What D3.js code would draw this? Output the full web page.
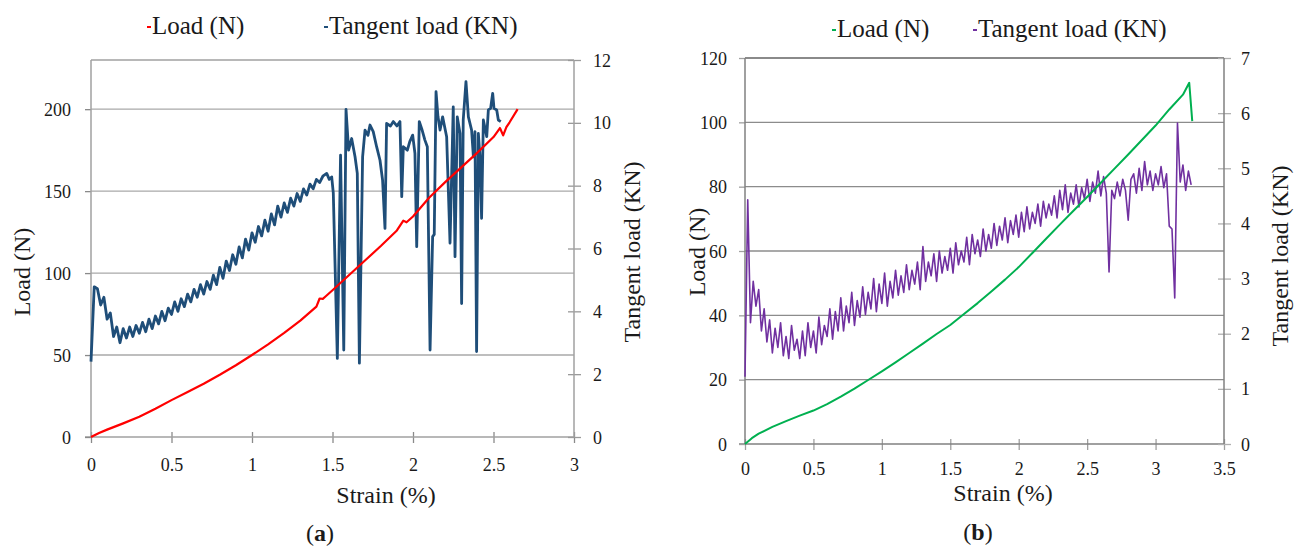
<!DOCTYPE html>
<html><head><meta charset="utf-8">
<script src="https://cdn.jsdelivr.net/npm/d3@7"></script>
<style>
body{margin:0;background:#fff}
svg text{font-family:"Times New Roman",Times,Tinos,"Liberation Serif","DejaVu Serif","Noto Serif",FreeSerif,serif !important;fill:#1a1a1a}
</style></head>
<body><svg id="c" width="1300" height="550"></svg>
<script>
// ---------- tick labels ----------
const strainTicksA = [0, 0.5, 1, 1.5, 2, 2.5, 3];
const loadTicksA = [0, 50, 100, 150, 200];
const tanTicksA = [0, 2, 4, 6, 8, 10, 12];
const strainTicksB = [0, 0.5, 1, 1.5, 2, 2.5, 3, 3.5];
const loadTicksB = [0, 20, 40, 60, 80, 100, 120];
const tanTicksB = [0, 1, 2, 3, 4, 5, 6, 7];

// ---------- panel (a): Load (N) ----------
const loadA_strain = [0,0.05,0.1,0.2,0.3,0.4,0.5,0.6,0.7,0.8,0.9,1.0,1.1,1.2,1.3,1.4,1.42,1.44,1.46,1.5,1.6,1.7,1.8,1.9,1.94,1.96,2.0,2.1,2.2,2.3,2.4,2.5,2.54,2.56,2.58,2.6,2.65];
const loadA_N      = [0,2.5,4.5,8.3,12.3,17.2,22.5,27.5,32.5,38,43.8,50,56.5,63.5,71,79.5,84.5,84.3,86,89.5,98.5,107.5,116.5,126,132,131,134.5,146,155.5,164.5,173.5,183,188.5,184,189,192,200];

// ---------- panel (a): Tangent load (KN) ----------
// regular part, sampled every 0.02 % strain from 0 to 1.42
const tanA_gridStep = 0.02;
const tanA_gridKN = [
 2.4,4.78,4.72,4.2,4.45,3.75,3.95,3.2,3.5,3.0,
 3.45,3.15,3.5,3.2,3.55,3.3,3.65,3.35,3.75,3.45,
 3.85,3.6,4.0,3.7,4.1,3.9,4.3,4.0,4.4,4.15,
 4.55,4.3,4.7,4.45,4.85,4.55,4.95,4.7,5.15,4.85,
 5.4,5.05,5.6,5.3,5.8,5.5,6.05,5.7,6.3,5.95,
 6.5,6.2,6.7,6.4,6.9,6.55,7.1,6.75,7.35,7.0,
 7.45,7.15,7.6,7.35,7.75,7.5,7.9,7.7,8.05,7.9,
 8.2,8.1];
// irregular spiky part
const tanA_tailStrain = [1.44,1.464,1.48,1.495,1.505,1.53,1.55,1.57,1.584,1.60,1.619,1.64,1.654,1.667,1.687,1.702,1.72,1.733,1.753,1.774,1.795,1.811,1.826,1.836,1.86,1.878,1.90,1.919,1.93,1.94,1.965,1.98,1.998,2.012,2.023,2.039,2.055,2.074,2.089,2.106,2.122,2.132,2.143,2.155,2.168,2.184,2.209,2.23,2.25,2.261,2.275,2.292,2.302,2.312,2.329,2.344,2.364,2.375,2.385,2.395,2.406,2.416,2.426,2.437,2.458,2.468,2.482,2.495,2.503,2.52,2.53,2.545];
const tanA_tailKN     = [8.3,8.39,8.2,8.28,7.76,2.5,8.97,2.77,10.43,9.13,9.5,8.92,8.39,2.35,8.92,9.77,9.6,9.93,9.72,9.24,8.81,8.18,6.64,9.98,9.9,10.04,9.9,10.04,7.65,9.24,9.13,9.4,9.61,9.03,6.06,10.04,9.8,9.45,9.24,2.77,6.38,6.45,10.99,10.2,9.77,10.19,9.56,6.17,10.51,5.74,10.19,9.66,4.25,10.09,11.31,10.19,9.77,8.92,9.72,2.72,9.66,8.92,6.96,10.09,9.56,10.41,10.46,10.94,10.46,10.41,10.09,10.04];

// ---------- panel (b): Load (N) ----------
const loadB_strain = [0,0.05,0.1,0.2,0.3,0.4,0.5,0.6,0.7,0.8,0.9,1.0,1.1,1.2,1.3,1.4,1.5,1.6,1.7,1.8,1.9,2.0,2.1,2.2,2.3,2.4,2.5,2.6,2.7,2.8,2.9,3.0,3.1,3.2,3.246,3.268];
const loadB_N      = [0,1.8,3.2,5.3,7.1,8.8,10.4,12.4,14.7,17.2,19.9,22.6,25.4,28.3,31.2,34.2,37.0,40.4,43.8,47.4,51.1,55,59.4,63.8,68.2,72.5,76.8,81.2,85.6,90,94.5,99,104,108.6,112.3,100.4];

// ---------- panel (b): Tangent load (KN), sampled every 0.02 % strain ----------
const tanB_step = 0.02;
const tanB_KN = [
 1.22,4.43,2.2,2.95,2.5,2.8,2.05,2.45,1.85,2.25,
 1.65,2.1,1.75,2.2,1.6,1.95,1.55,2.15,1.7,1.9,
 1.55,2.05,1.6,2.2,1.75,2.05,1.65,2.3,1.8,2.15,
 1.95,2.45,1.9,2.4,2.05,2.65,2.05,2.5,2.2,2.75,
 2.15,2.6,2.3,2.85,2.35,2.75,2.45,3.0,2.4,2.9,
 2.55,3.1,2.5,2.95,2.65,3.15,2.7,3.05,2.75,3.25,
 2.8,3.15,2.9,3.3,2.8,3.58,2.95,3.3,3.05,3.45,
 2.95,3.5,3.1,3.4,3.15,3.55,3.1,3.65,3.25,3.5,
 3.3,3.75,3.25,3.8,3.45,3.7,3.4,3.9,3.5,3.8,
 3.55,4.0,3.6,3.95,3.7,4.1,3.65,4.05,3.8,4.15,
 3.75,4.2,3.85,4.3,3.9,4.2,4.0,4.35,3.95,4.4,
 4.1,4.35,4.15,4.5,4.1,4.6,4.25,4.7,4.2,4.55,
 4.35,4.7,4.3,4.65,4.45,4.8,4.4,4.75,4.55,4.95,
 4.5,4.85,4.55,3.12,4.6,4.45,4.75,4.5,4.8,4.6,
 4.06,4.8,4.9,4.55,5.0,4.6,5.12,4.7,4.95,4.6,
 4.9,4.7,5.03,4.65,4.9,3.95,3.9,2.65,5.82,4.75,
 5.06,4.6,4.95,4.7];

// ---------- drawing ----------
const svg = d3.select("#c");
const zipPts = (xs, ys) => xs.map((v, i) => [v, ys[i]]);
const FONT = '"Times New Roman",Times,Tinos,"Liberation Serif","DejaVu Serif","Noto Serif",FreeSerif,serif';

function panel(o) {
  const g = svg.append("g").attr("font-family", FONT);
  const x = d3.scaleLinear().domain(o.xDom).range([o.left, o.right]);
  const yL = d3.scaleLinear().domain(o.yLDom).range([o.bottom, o.top]);
  const yR = d3.scaleLinear().domain(o.yRDom).range([o.bottom, o.top]);
  const fmt = d3.format("~g");

  g.selectAll(".grid").data(o.yLTicks.filter(d => d > 0)).join("line")
    .attr("x1", o.left).attr("x2", o.right)
    .attr("y1", d => yL(d)).attr("y2", d => yL(d))
    .attr("stroke", o.gridColor).attr("stroke-width", 1.4);
  g.append("line").attr("x1", o.left).attr("x2", o.right).attr("y1", o.top).attr("y2", o.top)
    .attr("stroke", o.borderColor).attr("stroke-width", 1.4);

  // x axis
  const ax = g.append("g").attr("transform", `translate(0,${o.bottom})`)
    .call(d3.axisBottom(x).tickValues(o.xTicks).tickFormat(fmt).tickSize(6).tickPadding(0));
  ax.attr("font-family", FONT);
  ax.select(".domain").remove();
  ax.selectAll(".tick line").attr("y1", -5).attr("y2", 6).attr("stroke", o.tickColor).attr("stroke-width", 1.3);
  ax.selectAll(".tick text").attr("y", o.xLabelDy).attr("dy", null).style("font-size", "18px");
  g.append("line").attr("x1", o.left - 6).attr("x2", o.right).attr("y1", o.bottom).attr("y2", o.bottom)
    .attr("stroke", o.borderColor).attr("stroke-width", 1.5);

  // left axis
  const al = g.append("g").attr("transform", `translate(${o.left},0)`)
    .call(d3.axisLeft(yL).tickValues(o.yLTicks).tickFormat(fmt).tickSize(6).tickPadding(0));
  al.attr("font-family", FONT);
  al.select(".domain").remove();
  al.selectAll(".tick line").attr("stroke", o.tickColor).attr("stroke-width", 1.3);
  al.selectAll(".tick text").attr("x", o.yLLabelX - o.left).attr("dy", "0.34em").style("font-size", "18px");
  g.append("line").attr("x1", o.left).attr("x2", o.left).attr("y1", o.top).attr("y2", o.bottom)
    .attr("stroke", o.borderColor).attr("stroke-width", 1.5);

  // right axis
  const ar = g.append("g").attr("transform", `translate(${o.right},0)`)
    .call(d3.axisRight(yR).tickValues(o.yRTicks).tickFormat(fmt).tickSize(6).tickPadding(0));
  ar.attr("font-family", FONT);
  ar.select(".domain").remove();
  ar.selectAll(".tick line").attr("x1", -6).attr("x2", 7).attr("stroke", o.rTickColor).attr("stroke-width", 1.3);
  ar.selectAll(".tick text").attr("x", o.yRLabelX - o.right).attr("dy", "0.34em").style("font-size", "18px");
  g.append("line").attr("x1", o.right).attr("x2", o.right).attr("y1", o.top).attr("y2", o.bottom)
    .attr("stroke", o.borderColor).attr("stroke-width", 1.5);

  // series
  const lineL = d3.line().x(d => x(d[0])).y(d => yL(d[1]));
  const lineR = d3.line().x(d => x(d[0])).y(d => yR(d[1]));
  g.append("path").datum(o.tanPts).attr("d", lineR).attr("fill", "none")
    .attr("stroke", o.tanColor).attr("stroke-width", o.tanWidth).attr("stroke-linejoin", "round");
  g.append("path").datum(o.loadPts).attr("d", lineL).attr("fill", "none")
    .attr("stroke", o.loadColor).attr("stroke-width", o.loadWidth).attr("stroke-linejoin", "round");

  // axis titles
  g.append("text").attr("x", o.xTitleX).attr("y", o.xTitleY)
    .attr("text-anchor", "middle").style("font-size", "24px").text("Strain (%)");
  g.append("text").attr("transform", `translate(${o.yLTitleX},${o.yLTitleY}) rotate(-90)`)
    .attr("text-anchor", "middle").style("font-size", "24px").text("Load (N)");
  g.append("text").attr("transform", `translate(${o.yRTitleX},${o.yRTitleY}) rotate(-90)`)
    .attr("text-anchor", "middle").style("font-size", "24px").text("Tangent load (KN)");

  // legend
  const leg = [[o.legX1, o.loadColor, "Load (N)"], [o.legX2, o.tanColor, "Tangent load (KN)"]];
  leg.forEach(([lx, c, t]) => {
    g.append("line").attr("x1", lx).attr("x2", lx + 4).attr("y1", o.legY - 7).attr("y2", o.legY - 7)
      .attr("stroke", c).attr("stroke-width", 2);
    g.append("text").attr("x", lx + 5).attr("y", o.legY).style("font-size", "25px").text(t);
  });

  // panel label
  const pl = g.append("text").attr("x", o.labelX).attr("y", o.labelY).attr("text-anchor", "middle").style("font-size", "24px");
  pl.append("tspan").text("(");
  pl.append("tspan").style("font-weight", "bold").text(o.label);
  pl.append("tspan").text(")");
}

panel({
  left: 91, right: 574, top: 60, bottom: 437,
  xDom: [0, 3], yLDom: [0, 230], yRDom: [0, 12],
  xTicks: strainTicksA, yLTicks: loadTicksA, yRTicks: tanTicksA,
  gridColor: "#a9a9a9", borderColor: "#a0a0a0", tickColor: "#8a8a8a", rTickColor: "#9a9a9a",
  xLabelDy: 34, yLLabelX: 71, yRLabelX: 593,
  loadPts: zipPts(loadA_strain, loadA_N),
  tanPts: zipPts(tanA_gridKN.map((_, i) => i * tanA_gridStep), tanA_gridKN).concat(zipPts(tanA_tailStrain, tanA_tailKN)),
  loadColor: "#ff0000", tanColor: "#1f4e79", loadWidth: 2.2, tanWidth: 2.8,
  xTitleX: 386, xTitleY: 503,
  yLTitleX: 30, yLTitleY: 272, yRTitleX: 640, yRTitleY: 252,
  legX1: 147, legX2: 324, legY: 34,
  label: "a", labelX: 320, labelY: 541
});

panel({
  left: 745, right: 1224, top: 58, bottom: 444,
  xDom: [0, 3.5], yLDom: [0, 120], yRDom: [0, 7],
  xTicks: strainTicksB, yLTicks: loadTicksB, yRTicks: tanTicksB,
  gridColor: "#8c8c8c", borderColor: "#808080", tickColor: "#a0a0a0", rTickColor: "#b0b0b0",
  xLabelDy: 31, yLLabelX: 727, yRLabelX: 1241,
  loadPts: zipPts(loadB_strain, loadB_N),
  tanPts: zipPts(tanB_KN.map((_, i) => i * tanB_step), tanB_KN),
  loadColor: "#00b050", tanColor: "#7030a0", loadWidth: 2, tanWidth: 1.6,
  xTitleX: 1003, xTitleY: 501,
  yLTitleX: 705, yLTitleY: 252, yRTitleX: 1288, yRTitleY: 256,
  legX1: 832, legX2: 973, legY: 37,
  label: "b", labelX: 978, labelY: 540
});
</script></body></html>
